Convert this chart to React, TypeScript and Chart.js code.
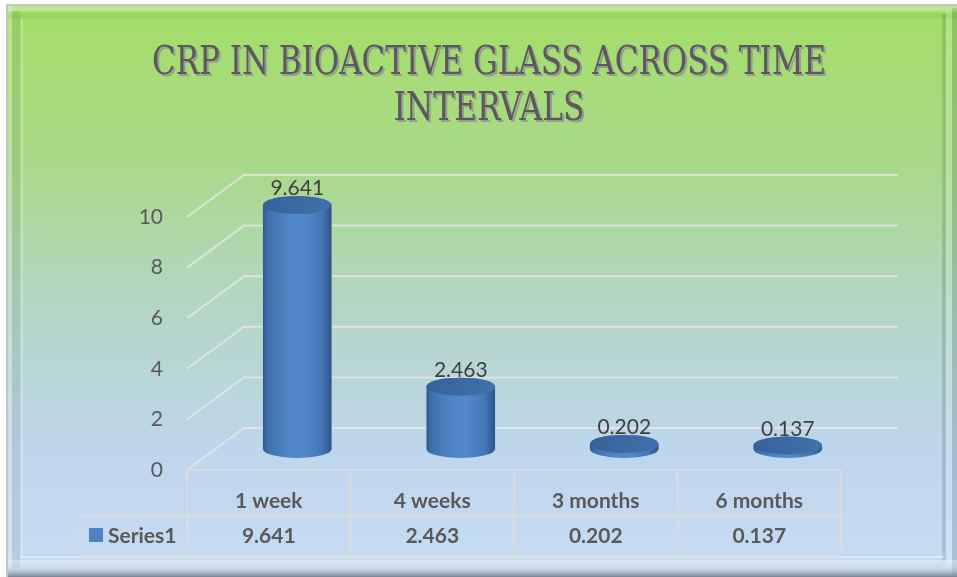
import React, { useEffect, useRef } from "react";
import { Chart, registerables } from "chart.js";

Chart.register(...registerables);

// ---- data ----
const categories = ["1 week", "4 weeks", "3 months", "6 months"];
const crpValues = [9.641, 2.463, 0.202, 0.137];
const seriesName = "Series1";
const yTicks = [0, 2, 4, 6, 8, 10];
const titleLines = ["CRP IN BIOACTIVE GLASS ACROSS TIME", "INTERVALS"];

// ---- look ----
const W = 957;
const H = 577;
const DX = 57;
const DY = -42;
const SERIES_COLOR = "#4f81bd";
const TEXT_COLOR = "#595959";
const FONT = 'Lato, "Open Sans", sans-serif';

const framePlugin = {
  id: "frame",
  beforeDraw(chart: any) {
    const ctx = chart.ctx;
    ctx.save();
    ctx.fillStyle = "#ffffff";
    ctx.fillRect(0, 0, W, H);
    const g = ctx.createLinearGradient(0, 6, 0, H);
    g.addColorStop(0, "#a4de68");
    g.addColorStop(0.28, "#aad98a");
    g.addColorStop(0.52, "#b3d6c4");
    g.addColorStop(0.78, "#bed6ec");
    g.addColorStop(1, "#c7dcf3");
    ctx.fillStyle = g;
    ctx.fillRect(8, 6, W - 8, H - 6);
    // outer outline
    ctx.strokeStyle = "#c4c4c4";
    ctx.lineWidth = 2;
    ctx.strokeRect(7, 5, W, H);
    // top gloss
    ctx.fillStyle = "rgba(255,255,255,0.28)";
    ctx.fillRect(8, 6, W - 8, 5);
    ctx.fillStyle = "rgba(0,40,0,0.05)";
    ctx.fillRect(8, 13, W - 8, 6);
    // left bevel
    ctx.fillStyle = "rgba(255,255,255,0.22)";
    ctx.fillRect(8, 6, 4, H);
    ctx.fillStyle = "rgba(0,40,20,0.08)";
    ctx.fillRect(12, 11, 8, H - 20);
    ctx.fillStyle = "rgba(255,255,255,0.25)";
    ctx.fillRect(21, 20, 2, H - 40);
    // right bevel
    ctx.fillStyle = "rgba(0,40,20,0.14)";
    ctx.fillRect(942, 14, 4, H - 30);
    ctx.fillStyle = "rgba(255,255,255,0.18)";
    ctx.fillRect(946, 11, 6, H - 20);
    ctx.fillStyle = "rgba(0,40,20,0.14)";
    ctx.fillRect(952, 8, 5, H - 10);
    // bottom bevel
    ctx.fillStyle = "rgba(255,255,255,0.35)";
    ctx.fillRect(20, 556, 925, 2);
    const bg = ctx.createLinearGradient(0, 560, 0, H);
    bg.addColorStop(0, "rgba(255,255,255,0.35)");
    bg.addColorStop(0.5, "rgba(200,210,225,0.4)");
    bg.addColorStop(1, "rgba(90,100,115,0.75)");
    ctx.fillStyle = bg;
    ctx.fillRect(8, 560, W - 8, H - 560);
    ctx.restore();
  },
};

const gridPlugin = {
  id: "grid3d",
  beforeDatasetsDraw(chart: any) {
    const ctx = chart.ctx;
    const ys = chart.scales.y;
    const { left, right } = chart.chartArea;
    ctx.save();
    ctx.strokeStyle = "rgba(228,230,226,0.85)";
    ctx.lineWidth = 2;
    for (const v of yTicks) {
      const py = ys.getPixelForValue(v);
      ctx.beginPath();
      ctx.moveTo(left, py);
      ctx.lineTo(left + DX, py + DY);
      ctx.lineTo(right + DX, py + DY);
      ctx.stroke();
    }
    ctx.restore();
  },
};

const cylinderPlugin = {
  id: "cylinders",
  afterDatasetsDraw(chart: any) {
    const ctx = chart.ctx;
    const meta = chart.getDatasetMeta(0);
    ctx.save();
    meta.data.forEach((el: any, i: number) => {
      const p = el.getProps(["x", "y", "base", "width"], true);
      const cx = p.x + DX / 2;
      const topY = p.y + DY / 2;
      const baseY = p.base + DY / 2;
      const rx = p.width / 2;
      const ry = 9;
      const grad = ctx.createLinearGradient(cx - rx, 0, cx + rx, 0);
      grad.addColorStop(0, "#2f5b92");
      grad.addColorStop(0.08, "#3f71ad");
      grad.addColorStop(0.4, "#5187c9");
      grad.addColorStop(0.6, "#5188c9");
      grad.addColorStop(0.86, "#4375b3");
      grad.addColorStop(1, "#2c5489");
      ctx.beginPath();
      ctx.moveTo(cx - rx, topY);
      ctx.lineTo(cx - rx, baseY);
      ctx.ellipse(cx, baseY, rx, ry, 0, Math.PI, 0, true);
      ctx.lineTo(cx + rx, topY);
      ctx.ellipse(cx, topY, rx, ry, 0, 0, Math.PI, true);
      ctx.closePath();
      ctx.fillStyle = grad;
      ctx.fill();
      // top face
      const tg = ctx.createLinearGradient(cx - rx, topY - ry, cx + rx, topY + ry);
      tg.addColorStop(0, "#35619a");
      tg.addColorStop(1, "#4172ab");
      ctx.beginPath();
      ctx.ellipse(cx, topY, rx, ry, 0, 0, Math.PI * 2);
      ctx.fillStyle = tg;
      ctx.fill();
      // value label
      ctx.fillStyle = "#404040";
      ctx.font = "21px " + FONT;
      ctx.textAlign = "center";
      ctx.textBaseline = "alphabetic";
      ctx.fillText(String(crpValues[i]), cx, topY - ry - 1);
    });
    ctx.restore();
  },
};

const tablePlugin = {
  id: "dataTable",
  afterDraw(chart: any) {
    const ctx = chart.ctx;
    const xs = chart.scales.x;
    const { left, right, bottom } = chart.chartArea;
    const row1 = 516;
    const row2 = 556;
    const legendLeft = 80;
    const half = (xs.getPixelForValue(1) - xs.getPixelForValue(0)) / 2;
    ctx.save();
    ctx.strokeStyle = "#d9dadb";
    ctx.lineWidth = 2;
    const line = (x1: number, y1: number, x2: number, y2: number) => {
      ctx.beginPath();
      ctx.moveTo(x1, y1);
      ctx.lineTo(x2, y2);
      ctx.stroke();
    };
    line(left, bottom, right, bottom);
    line(legendLeft, row1, right, row1);
    line(legendLeft, row2, right, row2);
    line(legendLeft, row1, legendLeft, row2);
    categories.forEach((_, i) => {
      const cx = xs.getPixelForValue(i);
      line(cx - half, bottom, cx - half, row2);
    });
    line(right, bottom, right, row2);

    ctx.fillStyle = TEXT_COLOR;
    ctx.font = "bold 21px " + FONT;
    ctx.textAlign = "center";
    ctx.textBaseline = "middle";
    categories.forEach((c, i) => {
      const cx = xs.getPixelForValue(i);
      ctx.fillText(c, cx, 501);
      ctx.fillText(crpValues[i].toFixed(3), cx, 536);
    });
    ctx.fillStyle = SERIES_COLOR;
    ctx.fillRect(89, 528, 14, 14);
    ctx.fillStyle = TEXT_COLOR;
    ctx.textAlign = "left";
    ctx.fillText(seriesName, 108, 536);
    ctx.restore();
  },
};

const titlePlugin = {
  id: "fancyTitle",
  afterDraw(chart: any) {
    const ctx = chart.ctx;
    ctx.save();
    ctx.font = '40px "DejaVu Serif Condensed", "DejaVu Serif", serif';
    ctx.textAlign = "center";
    ctx.textBaseline = "alphabetic";
    const widths = [674, 191];
    const baselines = [74, 120];
    titleLines.forEach((t, i) => {
      ctx.shadowColor = "rgba(150,150,150,0.9)";
      ctx.shadowOffsetX = 2;
      ctx.shadowOffsetY = 2;
      ctx.shadowBlur = 0;
      ctx.fillStyle = "#5a5a5a";
      ctx.fillText(t, 489, baselines[i], widths[i]);
    });
    ctx.restore();
  },
};

export default function App() {
  const ref = useRef<HTMLCanvasElement | null>(null);
  useEffect(() => {
    if (!ref.current) return;
    const chart = new Chart(ref.current, {
      type: "bar",
      data: {
        labels: categories,
        datasets: [
          {
            label: seriesName,
            data: crpValues,
            backgroundColor: "rgba(0,0,0,0)",
            borderWidth: 0,
            categoryPercentage: 1,
            barPercentage: 0.42,
          },
        ],
      },
      options: {
        responsive: false,
        animation: false,
        devicePixelRatio: 1,
        layout: { autoPadding: false, padding: { left: 0, top: 217, right: 116, bottom: 107 } },
        plugins: {
          legend: { display: false },
          title: { display: false },
          tooltip: { enabled: false },
        },
        scales: {
          x: { display: false },
          y: {
            min: 0,
            max: 10,
            afterFit: (s: any) => {
              s.width = 187;
            },
            afterBuildTicks: (s: any) => {
              s.ticks = yTicks.map((v) => ({ value: v }));
            },
            ticks: {
              padding: 24,
              color: TEXT_COLOR,
              font: { family: FONT, size: 21 },
            },
            grid: { display: false, drawTicks: false },
            border: { display: false },
          },
        },
      },
      plugins: [framePlugin, gridPlugin, cylinderPlugin, tablePlugin, titlePlugin],
    });
    return () => chart.destroy();
  }, []);
  return (
    <div style={{ position: "absolute", left: 0, top: 0, width: W, height: H }}>
      <canvas ref={ref} width={W} height={H} style={{ display: "block" }} />
    </div>
  );
}
